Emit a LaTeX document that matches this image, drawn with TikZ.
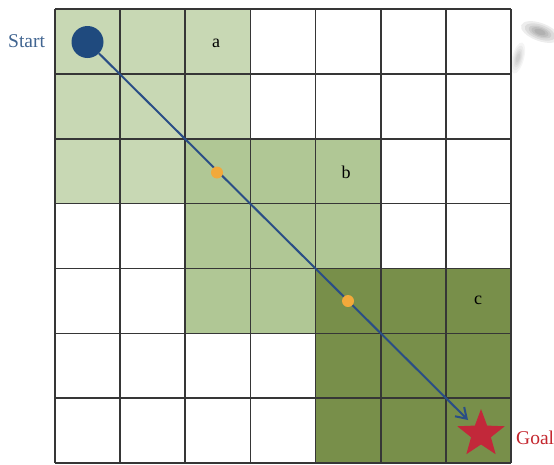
\documentclass[tikz,border=0pt]{standalone}
\usepackage{fontspec}
\setmainfont{Liberation Serif}
\usetikzlibrary{shapes.geometric,arrows.meta}
\definecolor{regA}{HTML}{C8D8B4}
\definecolor{regB}{HTML}{B0C795}
\definecolor{regC}{HTML}{788F4A}
\definecolor{gridc}{HTML}{363636}
\definecolor{pathc}{HTML}{2A4E86}
\definecolor{startc}{HTML}{1F4A7E}
\definecolor{dotc}{HTML}{F2A93B}
\definecolor{goalc}{HTML}{C2283A}
\definecolor{goaltxt}{HTML}{C4262E}
\tikzset{
  gridline/.style={draw=gridc, line width=1.6pt},
  lbl/.style={font=\fontsize{18}{20}\selectfont, inner sep=0pt},
  sidelbl/.style={font=\fontsize{19.5}{22}\selectfont, inner sep=0pt},
  waydot/.style={circle, fill=dotc, minimum size=12pt, inner sep=0pt},
  smudge/.style={fill=black, opacity=0.07},
}
\begin{document}
\begin{tikzpicture}[x=1pt,y=-1pt]
\useasboundingbox (0,0) rectangle (554,464);
% smudge artifact
\foreach \r in {1,0.8,0.6,0.45,0.3}{
  \fill[smudge, rotate around={-20:(540,32)}] (540,32) ellipse ({20*\r} and {9*\r});
  \fill[smudge, opacity=0.04, rotate around={75:(518,58)}] (518,58) ellipse ({16*\r} and {6*\r});
}
% regions
\fill[regA] (55,9) rectangle (251.3,204);
\fill[regB] (186,139) rectangle (381,334);
\fill[regC] (316,269) rectangle (511,463);
% grid
\foreach \i in {0,...,7}{
  \draw[gridline] ({55+65.14*\i},9) -- ({55+65.14*\i},463);
  \draw[gridline] (55,{9+64.86*\i}) -- (511,{9+64.86*\i});
}
% labels inside
\node[lbl] (la) at (216,43) {a};
\node[lbl] (lb) at (346,172) {b};
\node[lbl] (lc) at (478,300) {c};
% start, goal
\node[circle, fill=startc, minimum size=32pt, inner sep=0pt] (start) at (87.5,42) {};
\node[star, star points=5, star point ratio=2.4, fill=goalc, minimum size=50pt, inner sep=0pt] (goal) at (481,434) {};
\coordinate (tip) at (468,420);
\draw[pathc, line width=2pt, -{Straight Barb[length=10pt,width=13pt,line width=2pt]}] (start) -- (tip);
% waypoints
\node[waydot] (w1) at (217,172.5) {};
\node[waydot] (w2) at (348,301) {};
% side labels
\node[sidelbl, text=startc!85!white, anchor=west] (ls) at (8,41) {Start};
\node[sidelbl, text=goaltxt, anchor=west] (lg) at (516,438) {Goal};
\end{tikzpicture}
\end{document}
